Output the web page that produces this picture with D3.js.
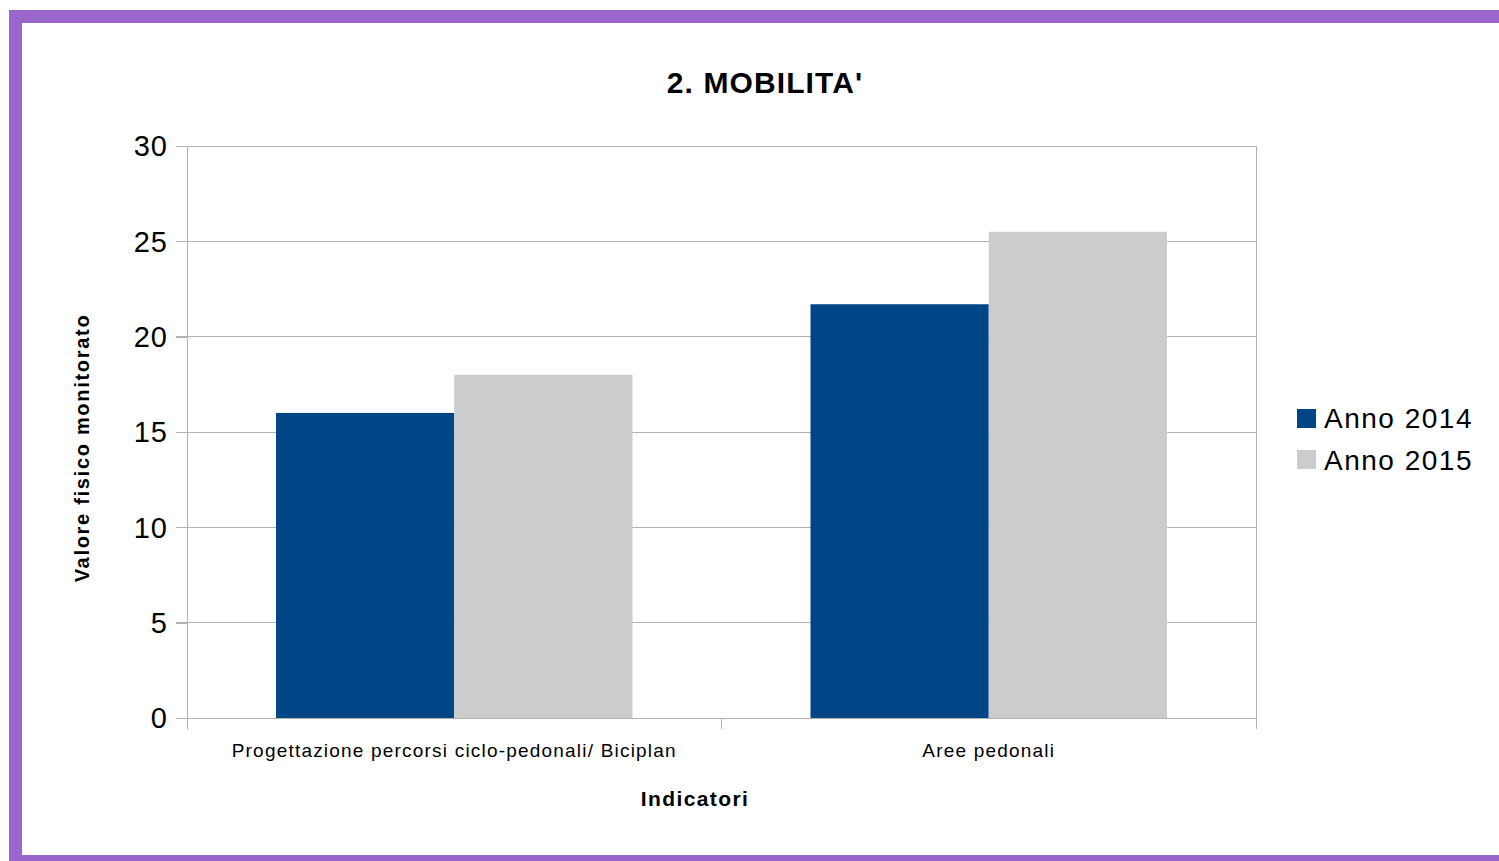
<!DOCTYPE html>
<html><head><meta charset="utf-8">
<script src="https://cdn.jsdelivr.net/npm/d3@7"></script>
<style>body{margin:0;background:#fff}svg{display:block}text{font-family:"Liberation Sans",Arial,sans-serif}</style>
</head><body>
<svg id="c" width="1499" height="861"></svg>
<script>
const categories = ["Progettazione percorsi ciclo-pedonali/ Biciplan", "Aree pedonali"];
const seriesNames = ["Anno 2014", "Anno 2015"];
const values2014 = [16, 21.7];
const values2015 = [18, 25.5];
const yTicks = [0, 5, 10, 15, 20, 25, 30];
const colors = ["#004586", "#cccccc"];
const title = "2. MOBILITA'";
const yTitle = "Valore fisico monitorato";
const xTitle = "Indicatori";

const svg = d3.select("#c");
svg.append("rect").attr("x", 15.5).attr("y", 16.5).attr("width", 1520).attr("height", 845)
  .attr("fill", "none").attr("stroke", "#9966cc").attr("stroke-width", 13);

const L = 187, R = 1256, T = 146, B = 718;
const x0 = d3.scaleBand().domain(categories).range([L, R]).paddingInner(0.333).paddingOuter(0.1665);
const x1 = d3.scaleBand().domain(seriesNames).range([0, x0.bandwidth()]);
const y = d3.scaleLinear().domain([0, 30]).range([B, T]);
const catBand = d3.scaleBand().domain(categories).range([L, R]);

svg.append("g").selectAll("line").data(yTicks).join("line")
  .attr("x1", L - 11).attr("x2", R).attr("y1", d => y(d)).attr("y2", d => y(d))
  .attr("stroke", "#b3b3b3").attr("stroke-width", 1).attr("shape-rendering", "crispEdges");
svg.append("line").attr("x1", R).attr("x2", R).attr("y1", T).attr("y2", B + 11)
  .attr("stroke", "#b3b3b3").attr("shape-rendering", "crispEdges");

const data = categories.map((c, i) => ({c, v: [values2014[i], values2015[i]]}));
const g = svg.append("g");
data.forEach(d => {
  d.v.forEach((v, j) => {
    g.append("rect").attr("x", x0(d.c) + x1(seriesNames[j])).attr("y", y(v))
      .attr("width", x1.bandwidth()).attr("height", y(0) - y(v)).attr("fill", colors[j]);
  });
});

const yAxis = d3.axisLeft(y).tickValues(yTicks).tickSize(11).tickPadding(8);
const ya = svg.append("g").attr("transform", `translate(${L},0)`).call(yAxis);
ya.selectAll("path,line").attr("stroke", "#b3b3b3").attr("shape-rendering", "crispEdges");
ya.selectAll("text").attr("font-size", 29).attr("fill", "#000").attr("letter-spacing", "1px")
  .attr("font-family", "Liberation Sans, Arial, sans-serif").attr("dy", "0.34em");
ya.select(".domain").remove();
svg.append("line").attr("x1", L).attr("x2", L).attr("y1", T).attr("y2", B + 11).attr("stroke", "#b3b3b3").attr("shape-rendering", "crispEdges");

const bounds = [L, catBand(categories[1]), R];
svg.append("g").selectAll("line").data(bounds).join("line")
  .attr("x1", d => d).attr("x2", d => d).attr("y1", B).attr("y2", B + 11)
  .attr("stroke", "#b3b3b3").attr("shape-rendering", "crispEdges");
svg.append("g").selectAll("text").data(categories).join("text")
  .attr("x", d => catBand(d) + catBand.bandwidth() / 2).attr("y", 757)
  .attr("text-anchor", "middle").attr("font-size", 19).attr("letter-spacing", "1.2px").attr("fill", "#000").text(d => d);

svg.append("text").attr("x", 765).attr("y", 93).attr("text-anchor", "middle")
  .attr("font-size", 30).attr("font-weight", "bold").attr("letter-spacing", "1.1px").text(title);
svg.append("text").attr("transform", "translate(89,448) rotate(-90)").attr("text-anchor", "middle")
  .attr("font-size", 20).attr("font-weight", "bold").attr("letter-spacing", "1.7px").text(yTitle);
svg.append("text").attr("x", 695).attr("y", 806).attr("text-anchor", "middle")
  .attr("font-size", 21).attr("font-weight", "bold").attr("letter-spacing", "1.4px").text(xTitle);

const lg = svg.append("g");
seriesNames.forEach((s, i) => {
  lg.append("rect").attr("x", 1297).attr("y", 409 + i * 41).attr("width", 19).attr("height", 19).attr("fill", colors[i]);
  lg.append("text").attr("x", 1324).attr("y", 428 + i * 42).attr("font-size", 28).attr("letter-spacing", "1.5px").text(s);
});
</script>
</body></html>
